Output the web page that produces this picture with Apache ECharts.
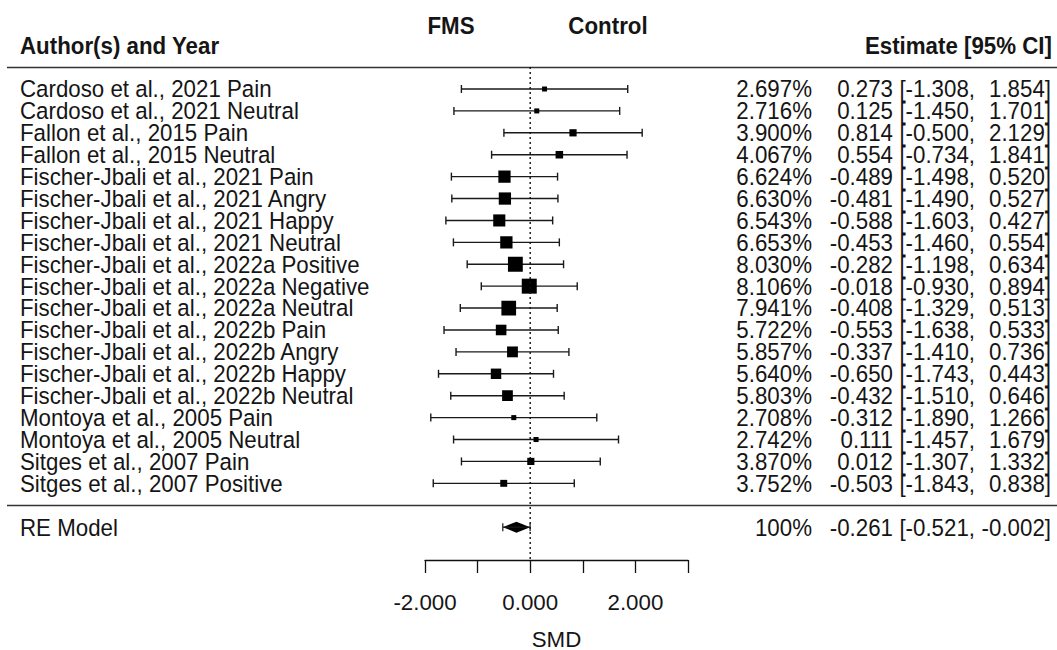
<!DOCTYPE html>
<html>
<head>
<meta charset="utf-8">
<title>Forest plot</title>
<script src="https://cdn.jsdelivr.net/npm/echarts@6/dist/echarts.min.js"></script>
<style>
  html, body { margin: 0; padding: 0; background: #fff; }
  #forest { width: 1057px; height: 650px; }
</style>
</head>
<body>
<div id="forest"></div>
<script>
// datos
const studies = [
  'Cardoso et al., 2021 Pain',
  'Cardoso et al., 2021 Neutral',
  'Fallon et al., 2015 Pain',
  'Fallon et al., 2015 Neutral',
  'Fischer-Jbali et al., 2021 Pain',
  'Fischer-Jbali et al., 2021 Angry',
  'Fischer-Jbali et al., 2021 Happy',
  'Fischer-Jbali et al., 2021 Neutral',
  'Fischer-Jbali et al., 2022a Positive',
  'Fischer-Jbali et al., 2022a Negative',
  'Fischer-Jbali et al., 2022a Neutral',
  'Fischer-Jbali et al., 2022b Pain',
  'Fischer-Jbali et al., 2022b Angry',
  'Fischer-Jbali et al., 2022b Happy',
  'Fischer-Jbali et al., 2022b Neutral',
  'Montoya et al., 2005 Pain',
  'Montoya et al., 2005 Neutral',
  'Sitges et al., 2007 Pain',
  'Sitges et al., 2007 Positive'
];
const weights = [2.697, 2.716, 3.900, 4.067, 6.624, 6.630, 6.543, 6.653, 8.030, 8.106,
  7.941, 5.722, 5.857, 5.640, 5.803, 2.708, 2.742, 3.870, 3.752];
const estimates = [0.273, 0.125, 0.814, 0.554, -0.489, -0.481, -0.588, -0.453, -0.282, -0.018,
  -0.408, -0.553, -0.337, -0.650, -0.432, -0.312, 0.111, 0.012, -0.503];
const ciLower = [-1.308, -1.450, -0.500, -0.734, -1.498, -1.490, -1.603, -1.460, -1.198, -0.930,
  -1.329, -1.638, -1.410, -1.743, -1.510, -1.890, -1.457, -1.307, -1.843];
const ciUpper = [1.854, 1.701, 2.129, 1.841, 0.520, 0.527, 0.427, 0.554, 0.634, 0.894,
  0.513, 0.533, 0.736, 0.443, 0.646, 1.266, 1.679, 1.332, 0.838];

const summaryLabel = 'RE Model';
const summaryWeight = 100;
const summaryEstimate = -0.261;
const summaryLower = -0.521;
const summaryUpper = -0.002;

const xTicks = [-2, -1, 0, 1, 2, 3];
const xTickLabels = [-2, 0, 2];

const FONT = '"Liberation Sans", Arial, Helvetica, sans-serif';
const FS = 22.3;
const STRETCH = 1.1;
const INK = '#151515';

const studyRows = studies.map((s, i) => [estimates[i], ciLower[i], ciUpper[i], weights[i], i]);
// una fila vacia entre los estudios y el modelo RE
const summaryRow = studies.length + 1;
const rowMin = -1;
const rowMax = summaryRow + 1.5;

function txt(text, x, y, align, bold) {
  return {
    type: 'text', x: x, y: y, scaleY: STRETCH,
    style: {
      text: text, x: 0, y: 0, align: align, verticalAlign: 'middle',
      fill: INK, fontSize: FS, fontFamily: FONT, fontWeight: bold ? 'bold' : 'normal'
    }
  };
}

function rightColumns(w, est, lo, hi, y) {
  const wTxt = w === 100 ? '100%' : w.toFixed(3) + '%';
  return [
    txt(wTxt, 812, y, 'right'),
    txt(est.toFixed(3), 893, y, 'right'),
    txt('[' + lo.toFixed(3) + ',', 975, y, 'right'),
    txt(hi.toFixed(3) + ']', 1051, y, 'right')
  ];
}

function renderStudy(params, api) {
  const row = api.value(4);
  const mid = api.coord([api.value(0), row]);
  const lo = api.coord([api.value(1), row]);
  const hi = api.coord([api.value(2), row]);
  const s = api.value(3) * 1.85;
  const ln = { stroke: '#1a1a1a', lineWidth: 1.4 };
  const children = [
    { type: 'line', shape: { x1: lo[0], y1: mid[1], x2: hi[0], y2: mid[1] }, style: ln },
    { type: 'line', shape: { x1: lo[0], y1: mid[1] - 4, x2: lo[0], y2: mid[1] + 4 }, style: ln },
    { type: 'line', shape: { x1: hi[0], y1: mid[1] - 4, x2: hi[0], y2: mid[1] + 4 }, style: ln },
    { type: 'rect', shape: { x: mid[0] - s / 2, y: mid[1] - s / 2, width: s, height: s }, style: { fill: '#000' } },
    txt(studies[params.dataIndex], 20, mid[1], 'left')
  ];
  return {
    type: 'group',
    children: children.concat(rightColumns(api.value(3), api.value(0), api.value(1), api.value(2), mid[1]))
  };
}

function renderSummary(params, api) {
  const row = api.value(4);
  const mid = api.coord([api.value(0), row]);
  const lo = api.coord([api.value(1), row]);
  const hi = api.coord([api.value(2), row]);
  const h = 5.5;
  const ln = { stroke: '#1a1a1a', lineWidth: 1.2 };
  const children = [
    { type: 'polygon', shape: { points: [[lo[0], mid[1]], [mid[0], mid[1] - h], [hi[0], mid[1]], [mid[0], mid[1] + h]] }, style: { fill: '#000' } },
    { type: 'line', shape: { x1: lo[0], y1: mid[1], x2: hi[0], y2: mid[1] }, style: ln },
    { type: 'line', shape: { x1: lo[0], y1: mid[1] - 4, x2: lo[0], y2: mid[1] + 4 }, style: ln },
    { type: 'line', shape: { x1: hi[0], y1: mid[1] - 4, x2: hi[0], y2: mid[1] + 4 }, style: ln },
    txt(summaryLabel, 20, mid[1], 'left')
  ];
  return {
    type: 'group',
    children: children.concat(rightColumns(api.value(3), api.value(0), api.value(1), api.value(2), mid[1]))
  };
}

const chart = echarts.init(document.getElementById('forest'), null, { renderer: 'svg' });

chart.setOption({
  backgroundColor: '#fff',
  animation: false,
  grid: { left: 425, width: 263, top: 67.1, bottom: 90, outerBoundsMode: 'none', containLabel: false },
  xAxis: {
    type: 'value',
    min: xTicks[0],
    max: xTicks[xTicks.length - 1],
    interval: 1,
    splitLine: { show: false },
    axisLine: { show: true, onZero: false, lineStyle: { color: '#111', width: 1.3 } },
    axisTick: { show: true, length: 13, lineStyle: { color: '#111', width: 1.3 } },
    axisLabel: {
      margin: 31,
      color: INK,
      fontSize: FS,
      fontFamily: FONT,
      formatter: v => xTickLabels.includes(v) ? v.toFixed(3) : ''
    },
    name: 'SMD',
    nameLocation: 'middle',
    nameGap: 68,
    nameMoveOverlap: false,
    nameTextStyle: { color: INK, fontSize: FS, fontFamily: FONT }
  },
  yAxis: { type: 'value', min: rowMin, max: rowMax, inverse: true, show: false },
  graphic: [
    { type: 'line', shape: { x1: 7, y1: 67.5, x2: 1057, y2: 67.5 }, style: { stroke: '#333', lineWidth: 1.6 } },
    { type: 'line', shape: { x1: 7, y1: 505.5, x2: 1057, y2: 505.5 }, style: { stroke: '#333', lineWidth: 1.6 } },
    txt('Author(s) and Year', 20, 46, 'left', true),
    txt('FMS', 451, 26, 'center', true),
    txt('Control', 608, 26, 'center', true),
    txt('Estimate [95% CI]', 1052, 46, 'right', true)
  ],
  series: [
    {
      type: 'line',
      data: [[0, rowMin], [0, rowMax]],
      symbol: 'none',
      silent: true,
      lineStyle: { color: '#111', width: 1.4, type: [2, 3] }
    },
    {
      type: 'custom',
      renderItem: renderStudy,
      encode: { x: [0, 1, 2], y: 4 },
      data: studyRows
    },
    {
      type: 'custom',
      renderItem: renderSummary,
      encode: { x: [0, 1, 2], y: 4 },
      data: [[summaryEstimate, summaryLower, summaryUpper, summaryWeight, summaryRow]]
    }
  ]
});
</script>
</body>
</html>
